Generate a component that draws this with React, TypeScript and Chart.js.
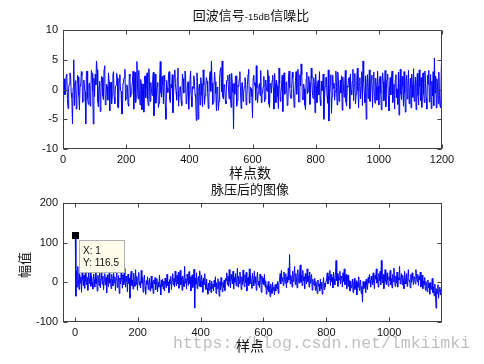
import React, { useEffect, useRef } from "react";
import { Chart, registerables } from "chart.js";

Chart.register(...registerables);

// ---------- data ----------
const topTitleRuns: [string, "cjk" | "lat"][] = [["回波信号", "cjk"], ["-15dB", "lat"], ["信噪比", "cjk"]];
const topXLabel = "样点数";
const bottomTitle = "脉压后的图像";
const bottomXLabel = "样点";
const bottomYLabel = "幅值";
const watermark = "https://blog.csdn.net/lmkiimki";

const topXTicks = [0, 200, 400, 600, 800, 1000, 1200];
const topYTicks = [-10, -5, 0, 5, 10];
const bottomXTicks = [0, 200, 400, 600, 800, 1000];
const bottomYTicks = [-100, 0, 100, 200];

const topSampleStep = 2; // every 2nd sample shown (0..1198)
const bottomSampleStep = 2; // every 2nd sample shown (1..1167)

const echoSignal = [
  -2.1, 1.2, 1.8, -0.9, -0.5, 2.3, 2.6, -1.7, -3.2, 0.4, 0.9, 2.8, 2.2, -0.6, -1.4, -5.8, 0.3, 5.0, -2.7, 1.1,
  1.5, -3.3, -0.8, 2.4, 2.1, -1.0, -3.4, 0.7, 0.6, 3.0, 2.4, -2.2, -1.9, 1.6, 0.2, -0.4, -5.8, 2.9, 3.1, -1.5,
  -2.5, 0.8, 1.1, -2.8, -0.4, 3.2, 2.7, -0.3, -5.8, 1.9, -1.2, 2.6, 0.8, 4.8, 3.3, -2.0, -2.9, 0.5, 1.4, -3.7,
  -0.6, 2.2, 2.0, -1.1, -1.7, 3.4, 4.0, -2.6, -2.2, 0.9, 0.5, -1.8, 2.8, 1.3, -3.6, 0.2, 1.2, -2.4, -0.9, 2.5,
  3.0, -1.3, -2.4, 0.6, 0.7, 2.7, 1.9, -3.0, -3.1, 1.5, 2.5, -0.2, -0.3, -4.1, -4.1, 1.1, 1.6, 2.0, 3.4, -1.9,
  -1.5, 0.8, 0.4, -2.5, -2.8, 2.6, 2.2, -1.3, -0.7, 0.3, 1.3, 3.1, -3.3, -0.5, 2.9, -2.2, -1.1, 4.7, 0.6, -1.6,
  3.2, -0.8, -2.6, 1.7, 1.0, -3.4, -0.2, 0.9, -3.8, 2.1, 2.3, -1.4, 0.9, 2.8, -1.6, -2.7, 3.5, 0.4, -2.0, 1.2,
  0.1, -1.0, 1.7, 2.9, -4.4, -0.7, 2.6, -2.3, -0.8, 0.6, 1.2, -3.0, -2.3, 1.8, 4.7, -0.5, -1.3, 2.2, 0.8, -2.4,
  2.4, 1.4, -3.0, -5.0, 1.5, 0.2, -0.5, 2.4, 3.0, -1.7, -2.2, 0.9, 0.3, 2.5, -3.9, -1.1, 2.1, 3.3, 1.0, -0.4,
  -1.8, 2.0, 3.6, -2.8, -0.9, 0.4, 0.5, -1.9, -2.7, 2.6, 1.8, -0.6, -0.4, 3.1, 2.7, -2.4, -2.0, 0.7, 1.3, -3.3,
  -0.6, 1.6, 3.1, -1.2, -2.9, 0.5, 0.2, 2.3, 1.6, -0.8, -1.4, -5.2, 2.8, 1.4, -5.0, 0.3, 0.9, -2.6, 2.0, 1.0,
  -1.0, -2.9, 3.3, 0.8, -2.5, -1.1, 0.7, 2.0, 1.4, -0.3, -3.2, -1.5, 2.2, 3.0, -0.3, 4.8, 1.1, -2.5, -2.1, 0.6,
  2.9, 1.3, -0.7, -3.6, 0.4, 0.2, -3.5, -2.0, 1.9, 3.4, 3.7, -0.4, 4.8, -1.2, -1.6, 0.8, 0.6, -1.9, -2.4, 1.5,
  1.5, 2.4, -0.1, -1.6, 2.6, -0.9, -3.0, 2.7, 1.0, -0.5, -6.6, 1.0, -0.8, 2.2, 2.3, -2.8, -1.9, 0.7, 0.5, 1.8,
  3.0, -0.3, -3.2, 1.1, 1.2, -2.0, -0.6, 0.5, 2.0, 1.6, -2.6, -1.1, 0.8, 2.6, 3.4, -2.3, -1.3, 0.4, 0.1, -1.2,
  -4.8, 1.9, 2.4, 0.7, 1.1, -1.8, 4.0, 0.2, -2.2, -0.6, 0.6, 1.0, -1.0, 3.2, -2.2, -0.9, -0.4, 0.5, 2.2, -2.1,
  -1.6, 1.6, 0.3, -0.3, 3.3, 2.3, -2.4, -3.0, 1.0, 0.8, -0.6, 1.5, 2.4, 0.2, -3.3, 2.7, 0.9, -2.2, 1.6, 0.6,
  -1.2, -3.2, 3.6, 1.0, -2.0, -0.7, 0.4, 2.4, -3.7, 1.7, 2.8, -0.8, -0.5, 1.1, 1.3, -2.7, -2.6, 2.2, 3.1, 0.3,
  -1.4, -1.5, 0.2, 2.9, 2.0, -0.6, -3.0, -1.4, 1.5, 3.0, -0.8, 0.6, 3.4, -2.1, -2.1, 2.5, 0.6, 4.3, 2.5, -1.7,
  -1.7, 0.9, 0.1, -2.6, -3.4, 1.8, 2.9, -0.7, -0.3, 2.2, 1.2, -2.5, -0.4, 3.6, 1.9, -1.0, -1.5, 2.0, 0.8, -3.9,
  2.6, 0.4, -2.2, 1.0, 1.5, -0.9, 3.0, -1.8, -2.7, 1.4, -0.2, 0.4, 2.6, -5.0, -1.4, 0.5, 1.9, 2.1, -1.1, -2.3,
  3.3, -5.3, -0.6, 0.7, 2.5, -4.0, -1.2, 2.4, 0.2, 1.1, -1.8, -0.3, 3.1, 0.3, -2.6, 2.9, 1.5, -2.0, -0.4, 1.6,
  -0.6, 2.3, -3.5, 2.1, 0.4, -1.3, 1.0, 3.2, -2.1, -2.8, 0.6, 0.4, 1.8, 2.0, -3.2, 2.6, -0.1, -0.9, 1.3, 3.4,
  -1.9, 0.8, 2.7, -2.4, -0.8, 1.5, 3.6, -0.2, -3.1, 0.9, 2.0, -1.6, 0.5, 3.0, -2.7, 4.8, 1.2, -0.7, -2.2, 2.3,
  -5.0, 1.1, 2.5, -1.5, 0.3, 3.3, -2.0, -0.5, 1.7, 2.4, -3.0, 0.7, 2.9, -1.2, -2.3, 1.9, 0.4, -1.8, 3.1, 0.6,
  -2.6, 1.4, 2.2, -0.6, -3.4, 0.8, 2.8, 1.3, -1.9, -0.4, 3.2, -2.9, 0.2, 1.7, 2.6, -1.1, -3.6, 0.5, 2.0, -0.9,
  1.8, 3.1, -2.2, -0.3, 0.9, -3.3, 1.6, 2.5, -1.4, 0.1, -2.5, 2.9, -4.3, 1.0, 3.4, -0.8, -1.7, 2.2, 0.6, -2.8,
  3.0, -0.5, -3.8, 1.3, 2.4, -1.6, 0.7, 3.2, -2.4, -0.2, 1.9, -3.1, 2.6, 0.8, -1.3, 3.5, -2.0, 0.4, 2.1, -3.4,
  1.2, 2.7, -1.0, -2.6, 3.3, 0.5, -1.9, 2.0, -3.0, 1.6, 2.8, -0.7, -2.2, 3.1, 1.0, -1.5, -3.3, 2.4, 0.9, 3.2,
  -2.1, 0.3, 2.5, -3.2, 1.4, -1.1, 3.0, -2.7, 5.3, -0.6, 2.2, -3.1, 1.8, 0.5, -2.4, 2.9, -1.0, -2.9, -3.0, 4.2,
];

const pulseOutput = [
  116.5, -35, 28, -12, 40, 6, -18, 22, -2, 14, -25, 30, 5, -9, 18, -15, 24, 2, -6, 12,
  -20, 26, 8, -4, 33, -10, 15, 0, -17, 21, 6, -12, 28, -3, 10, -22, 18, 4, -8, 25,
  -14, 9, 30, -5, 16, -19, 3, 22, -7, 12, -26, 19, 1, -11, 27, -2, 8, -16, 20, 5,
  -9, 31, -1, 14, -21, 7, 24, -13, 2, 17, -28, 11, -4, 26, 8, -15, 19, -6, 35, 0,
  -12, 16, 4, -24, 21, -3, 10, -40, 13, 28, -8, 6, -17, 23, 1, -10, 32, -5, 15, -20,
  9, 25, -7, 3, -14, 30, -2, 12, -25, 7, 18, -11, -30, 4, -6, 14, -18, -2, 10, -22,
  -8, 16, -15, 2, -28, 6, -4, 12, -19, -1, 9, -24, 0, -12, 18, -6, -32, 5, -10, 8,
  -17, 3, -22, 11, -5, -14, 20, -9, 1, -26, 7, -3, 15, -18, 4, 22, -7, 10, -12, 28,
  2, -9, 18, -4, 25, -15, 8, 30, -6, 12, -20, 16, 3, -11, 40, -2, 9, -17, 21, 5,
  -8, 27, -3, 14, -22, 6, 19, -13, 0, 33, -65, 10, -5, 24, -16, 7, 15, -10, 29, 2,
  -12, 18, 4, -25, 11, -6, 22, -3, -18, 8, -14, -30, -2, -20, 6, -9, -26, 3, -15, -4,
  -22, 5, -11, 14, -28, -1, -16, 9, -7, -35, 2, -19, 12, -8, -24, 0, -13, 6, -21, 10,
  4, 24, -6, 16, -10, 32, 2, -14, 20, 8, -4, 28, -17, 12, 0, 22, -9, 6, 36, -12,
  15, -3, 26, 9, -18, 14, -6, 31, 3, -11, 19, -1, 25, -22, 7, 12, -8, 34, -4, 18,
  1, -15, 23, 6, -9, 28, -2, 14, -20, 10, 26, -7, 3, -13, 21, 8, -25, 16, -3, 11,
  -6, 20, -12, 4, -30, -8, -18, 2, -24, -10, -36, -4, -16, -28, 0, -20, -12, -32, -6, -22,
  -4, -16, 2, -28, -2, 6, 22, -4, 30, 4, 12, -8, 26, 8, -2, 22, -14, 14, 0, 36,
  6, 70, -4, 18, 8, -12, 28, 2, 16, 40, -6, 22, 6, -14, 32, 10, -2, 24, 44, 0,
  18, -8, 30, 4, 14, -16, 22, 8, -4, 34, 2, 16, -12, 26, -2, 12, 20, -20, 8, -6,
  -8, 10, -20, 2, -14, -28, 6, -10, -4, -22, 8, -16, 0, -30, -6, 12, -18, -2, -12, 4,
  10, 24, -4, 16, 6, 30, -8, 20, 2, 12, -14, 26, 8, -6, 18, 55, 4, 22, -10, 14,
  6, 28, -4, 16, 10, -12, 24, 2, 34, -6, 12, 20, -16, 8, 18, -10, 4, -22, 2, -14,
  -6, 8, -26, -2, 10, -18, -8, 4, -32, 0, -12, 14, -20, -4, 6, -28, -10, -50, 2, -16,
  -10, 2, -26, 8, -6, -18, 12, -2, 20, 4, -12, 16, 6, -6, 24, 0, -16, 18, 8, 34,
  -2, 12, -12, 22, 4, 28, -6, 55, 8, -2, 20, -16, 12, 32, 2, -6, 24, 6, -10, 14,
  4, 30, -6, 10, -14, 20, 2, 36, 8, -10, 16, -2, 26, -12, 12, 6, 40, -4, 10, 22,
  -6, 18, 4, -16, 28, 8, -4, 22, -10, 12, 32, 2, 6, -14, 20, 0, 24, 10, -6, 14,
  10, -4, 32, 14, 2, 20, -8, 16, 6, 26, -12, 8, 18, -16, 4, -6, 12, -20, 2, -10,
  -24, 6, -14, -2, -30, 0, -18, -8, 10, -26, -12, -34, -4, -20, -65, -16, -28, -6, -40, -22,
  -12, -32, -18, -28,
];

const dataTipX = 1;
const dataTipY = 116.5;

// ---------- styling ----------
const AXIS = "#404040";
const BLUE = "rgb(0,0,255)";
const CJK = '"Noto Sans CJK SC", "Noto Sans CJK JP", sans-serif';
const LAT = '"Liberation Sans", Arial, sans-serif';
const TICK_FONT = { family: '"Liberation Sans", Arial, sans-serif', size: 11 };

function drawFrame(chart: any) {
  const { ctx, chartArea: a, scales } = chart;
  ctx.save();
  ctx.strokeStyle = AXIS;
  ctx.lineWidth = 1;
  const L = Math.round(a.left) + 0.5;
  const R = Math.round(a.right) - 0.5;
  const T = Math.round(a.top) + 0.5;
  const B = Math.round(a.bottom) - 0.5;
  ctx.strokeRect(L, T, R - L, B - T);
  const tl = 4;
  ctx.beginPath();
  scales.x.ticks.forEach((t: any) => {
    const px = Math.round(scales.x.getPixelForValue(t.value)) + 0.5;
    ctx.moveTo(px, B);
    ctx.lineTo(px, B - tl);
    ctx.moveTo(px, T);
    ctx.lineTo(px, T + tl);
  });
  scales.y.ticks.forEach((t: any) => {
    const py = Math.round(scales.y.getPixelForValue(t.value)) + 0.5;
    ctx.moveTo(L, py);
    ctx.lineTo(L + tl, py);
    ctx.moveTo(R, py);
    ctx.lineTo(R - tl, py);
  });
  ctx.stroke();
  ctx.restore();
}

function drawRuns(ctx: CanvasRenderingContext2D, runs: [string, string][], cx: number, baseline: number) {
  let w = 0;
  runs.forEach(([t, f]) => {
    ctx.font = f;
    w += ctx.measureText(t).width;
  });
  let x = cx - w / 2;
  ctx.textAlign = "left";
  ctx.textBaseline = "alphabetic";
  runs.forEach(([t, f]) => {
    ctx.font = f;
    ctx.fillText(t, x, baseline);
    x += ctx.measureText(t).width;
  });
}

function axisScales(xMin: number, xMax: number, xTicks: number[], yMin: number, yMax: number, yTicks: number[], xH: number, yW: number) {
  return {
    x: {
      type: "linear" as const,
      min: xMin,
      max: xMax,
      afterBuildTicks: (s: any) => {
        s.ticks = xTicks.map((v) => ({ value: v }));
      },
      afterFit: (s: any) => {
        s.height = xH;
      },
      grid: { display: false, drawTicks: false },
      border: { display: false },
      ticks: { font: TICK_FONT, color: "#111", padding: 4, maxRotation: 0, autoSkip: false, callback: (v: any) => String(v) },
    },
    y: {
      type: "linear" as const,
      min: yMin,
      max: yMax,
      afterBuildTicks: (s: any) => {
        s.ticks = yTicks.map((v) => ({ value: v }));
      },
      afterFit: (s: any) => {
        s.width = yW;
      },
      grid: { display: false, drawTicks: false },
      border: { display: false },
      ticks: { font: TICK_FONT, color: "#111", padding: 5, autoSkip: false, callback: (v: any) => String(v) },
    },
  };
}

export default function App() {
  const topRef = useRef<HTMLCanvasElement>(null);
  const botRef = useRef<HTMLCanvasElement>(null);

  useEffect(() => {
    const topData = echoSignal.map((v, i) => ({ x: i * topSampleStep, y: v }));
    const botData = pulseOutput.map((v, i) => ({ x: 1 + i * bottomSampleStep, y: v }));

    const topDecor = {
      id: "topDecor",
      afterDraw(chart: any) {
        drawFrame(chart);
        const ctx = chart.ctx as CanvasRenderingContext2D;
        ctx.save();
        ctx.fillStyle = "#111";
        drawRuns(
          ctx,
          topTitleRuns.map(([t, k]) => [t, k === "cjk" ? `13px ${CJK}` : `9.5px ${LAT}`]),
          251,
          19.5
        );
        drawRuns(ctx, [[topXLabel, `14px ${CJK}`]], 250, 177.5);
        ctx.restore();
      },
    };

    const botDecor = {
      id: "botDecor",
      afterDraw(chart: any) {
        drawFrame(chart);
        const ctx = chart.ctx as CanvasRenderingContext2D;
        const sx = chart.scales.x;
        const sy = chart.scales.y;
        ctx.save();
        // data tip
        const px = sx.getPixelForValue(dataTipX);
        const py = sy.getPixelForValue(dataTipY);
        ctx.fillStyle = "#000";
        ctx.fillRect(Math.round(px) - 3, Math.round(py) - 4, 7, 7);
        const bx = Math.round(px) + 4.5;
        const by = Math.round(py) + 4.5;
        ctx.fillStyle = "#FFFCEB";
        ctx.fillRect(bx, by, 45, 32);
        ctx.strokeStyle = "#B0B0B0";
        ctx.lineWidth = 1;
        ctx.strokeRect(bx, by, 45, 32);
        ctx.fillStyle = "#111";
        ctx.font = `10px ${LAT}`;
        ctx.textAlign = "left";
        ctx.textBaseline = "alphabetic";
        ctx.fillText(`X: ${dataTipX}`, bx + 3.5, by + 13.5);
        ctx.fillText(`Y: ${dataTipY}`, bx + 3.5, by + 25.5);
        // titles and labels
        drawRuns(ctx, [[bottomTitle, `13px ${CJK}`]], 250, 11.5);
        ctx.fillStyle = "rgba(170,170,170,0.75)";
        ctx.font = `16.5px "Liberation Mono", "DejaVu Sans Mono", monospace`;
        ctx.fillText(watermark, 173, 165.5);
        ctx.fillStyle = "#111";
        drawRuns(ctx, [[bottomXLabel, `14px ${CJK}`]], 250, 168.5);
        ctx.translate(24, 83);
        ctx.rotate(-Math.PI / 2);
        ctx.textAlign = "center";
        ctx.textBaseline = "middle";
        ctx.font = `13px ${CJK}`;
        ctx.fillText(bottomYLabel, 0, 0);
        ctx.restore();
      },
    };

    const topChart = new Chart(topRef.current!, {
      type: "line",
      data: {
        datasets: [
          { data: topData, borderColor: BLUE, borderWidth: 1, pointRadius: 0, tension: 0, fill: false },
        ],
      },
      options: {
        animation: false,
        responsive: false,
        devicePixelRatio: 1,
        layout: { padding: { left: 23, right: 42, top: 30, bottom: 0 } },
        plugins: { legend: { display: false }, tooltip: { enabled: false }, title: { display: false } },
        scales: axisScales(0, 1200, topXTicks, -10, 10, topYTicks, 33, 40) as any,
        events: [],
      },
      plugins: [topDecor],
    });

    const botChart = new Chart(botRef.current!, {
      type: "line",
      data: {
        datasets: [
          { data: botData, borderColor: BLUE, borderWidth: 1, pointRadius: 0, tension: 0, fill: false },
        ],
      },
      options: {
        animation: false,
        responsive: false,
        devicePixelRatio: 1,
        layout: { padding: { left: 23, right: 42, top: 21, bottom: 0 } },
        plugins: { legend: { display: false }, tooltip: { enabled: false }, title: { display: false } },
        scales: axisScales(-38, 1168, bottomXTicks, -100, 200, bottomYTicks, 42, 40) as any,
        events: [],
      },
      plugins: [botDecor],
    });

    return () => {
      topChart.destroy();
      botChart.destroy();
    };
  }, []);

  return (
    <div style={{ position: "fixed", left: 0, top: 0, width: 484, height: 364, background: "#fff" }}>
      <canvas ref={topRef} width={484} height={182} style={{ display: "block", width: 484, height: 182 }} />
      <canvas ref={botRef} width={484} height={182} style={{ display: "block", width: 484, height: 182 }} />
    </div>
  );
}
